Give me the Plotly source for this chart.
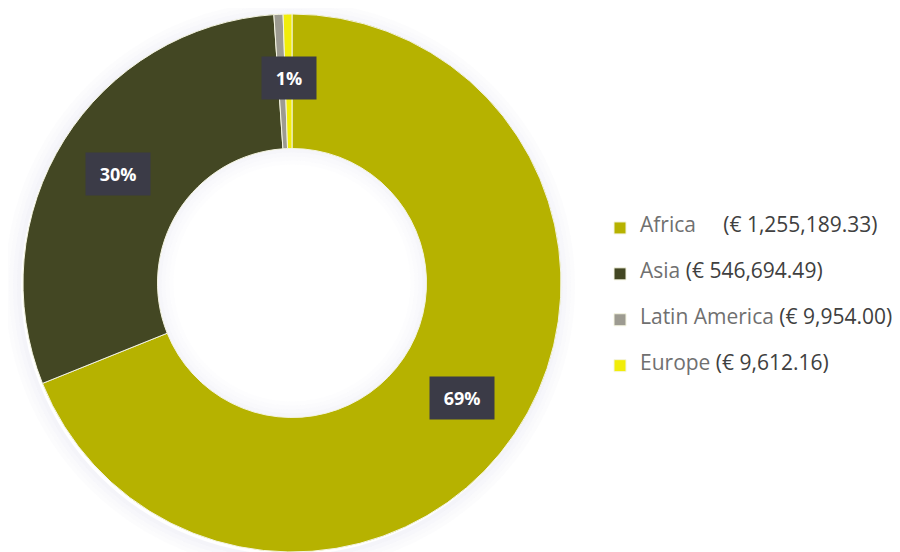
import math
import plotly.graph_objects as go

# ---- data ----
regions = ["Africa", "Asia", "Latin America", "Europe"]
amounts = [1255189.33, 546694.49, 9954.00, 9612.16]
pct_labels = ["69%", "30%", "", "1%"]
name_gaps = ["\u00a0\u00a0\u00a0\u00a0", "", "", ""]

# ---- style ----
colors = ["#b6b200", "#434723", "#9d9b91", "#f1ed0a"]
OFF = 8                      # browser body margin
W, H = 900 - OFF, 552 - OFF  # figure size so the page does not scroll
CX, CY, R = 292 - OFF, 283 - OFF, 269   # donut centre / radius (figure px)
HOLE = 0.5
LABEL_R = 205

legend_names = [
    f"\u00a0<br><span style='font-size:21px;color:#707070'>{r}</span>"
    f"<span style='font-size:21px;color:#404040'>{g} (€ {v:,.2f})</span><br>\u00a0"
    for r, g, v in zip(regions, name_gaps, amounts)
]

fig = go.Figure(
    go.Pie(
        labels=legend_names,
        values=amounts,
        sort=False,
        direction="clockwise",
        rotation=0,
        hole=HOLE,
        marker=dict(colors=colors, line=dict(color="#f4f4e0", width=1)),
        textinfo="none",
        hoverinfo="label+percent",
        domain=dict(x=[(CX - R) / W, (CX + R) / W],
                    y=[max(0, 1 - (CY + R) / H), min(1, 1 - (CY - R) / H)]),
    )
)

# percentage labels placed at each slice's mid-angle
total = sum(amounts)
cum = 0.0
annotations = []
for v, t in zip(amounts, pct_labels):
    mid = (cum + v / 2) / total * 2 * math.pi
    cum += v
    if not t:
        continue
    px = CX + LABEL_R * math.sin(mid)
    py = CY - LABEL_R * math.cos(mid)
    annotations.append(
        dict(
            x=px / W, y=1 - py / H, xref="paper", yref="paper",
            xanchor="center", yanchor="middle",
            text=f"\u00a0<b>{t}</b>\u00a0", showarrow=False,
            font=dict(family="Open Sans", size=18, color="white"),
            bgcolor="#3b3b47", borderpad=9,
        )
    )

# soft shadow rings around the donut and inside the hole (decoration)
shapes = []
def ring(radius, width, alpha, dx=-2, dy=3):
    cx, cy = CX + dx, CY + dy
    return dict(
        type="circle", xref="paper", yref="paper", layer="below",
        x0=(cx - radius) / W, x1=(cx + radius) / W,
        y0=1 - (cy + radius) / H, y1=1 - (cy - radius) / H,
        line=dict(color=f"rgba(185,185,215,{alpha})", width=width),
        fillcolor="rgba(0,0,0,0)",
    )
for k, a in enumerate([0.16, 0.11, 0.07, 0.04]):
    shapes.append(ring(R + 2 + 4 * k, 4, a))
    shapes.append(ring(R * HOLE - 2 - 4 * k, 4, a * 0.8, dx=0, dy=0))

fig.update_layout(
    width=W, height=H,
    margin=dict(l=0, r=0, t=0, b=0),
    paper_bgcolor="white", plot_bgcolor="white",
    showlegend=True,
    legend=dict(
        x=(640 - OFF - 40) / W, xanchor="left",
        y=1 - (299 - OFF - 2) / H, yanchor="middle",
        font=dict(family="Open Sans", size=11.0, color="#404040"),
        bgcolor="rgba(0,0,0,0)",
    ),
    annotations=annotations,
    shapes=shapes,
)

fig.write_html("out.html")
